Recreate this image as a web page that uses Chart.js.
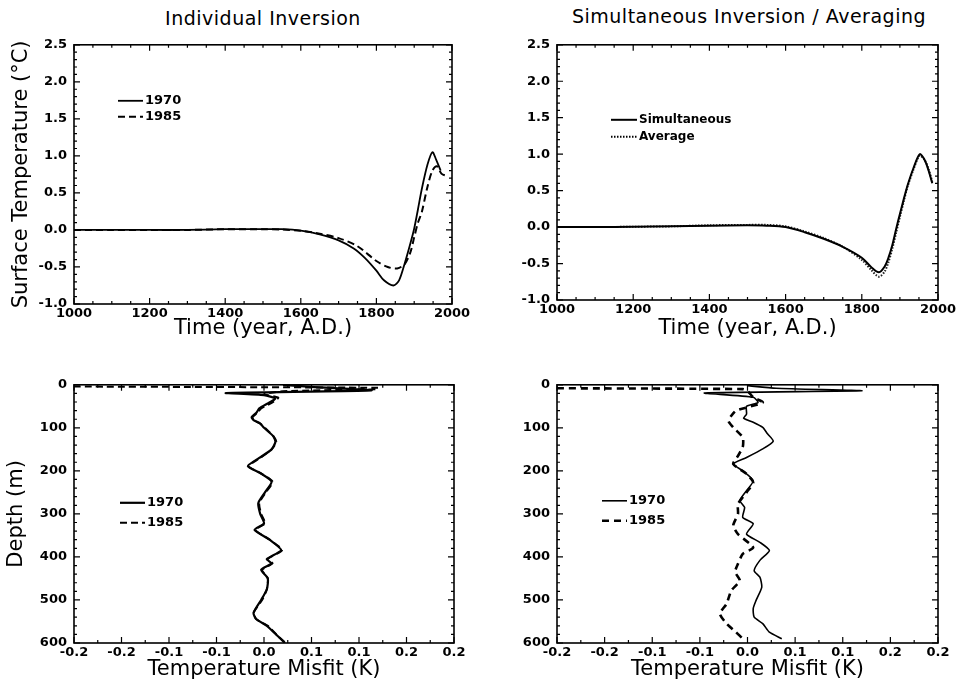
<!DOCTYPE html>
<html>
<head>
<meta charset="utf-8">
<script src="https://cdn.jsdelivr.net/npm/chart.js@4.4.0/dist/chart.umd.min.js"></script>
<style>
  body { margin: 0; background: #fff; }
  #page { position: relative; width: 964px; height: 684px; overflow: hidden; background: #fff; }
  canvas { position: absolute; }
  .ptitle { position: absolute; font-family: 'DejaVu Sans', sans-serif; font-size: 19px; letter-spacing: 0.5px; color: #000; white-space: nowrap; transform: translateX(-50%); }
</style>
</head>
<body>
<div id="page">
  <div class="ptitle" style="left:263px; top:7px;">Individual Inversion</div>
  <div class="ptitle" style="left:749px; top:5px;">Simultaneous Inversion / Averaging</div>
  <canvas id="tl" width="475" height="315" style="left:0; top:30px;"></canvas>
  <canvas id="tr" width="482" height="315" style="left:482px; top:30px;"></canvas>
  <canvas id="bl" width="475" height="314" style="left:0; top:370px;"></canvas>
  <canvas id="br" width="482" height="314" style="left:482px; top:370px;"></canvas>
</div>
<script>
// tick labels
const tempTickLabels = ['-1.0', '-0.5', '0.0', '0.5', '1.0', '1.5', '2.0', '2.5'];
const misfitTickLabels = ['-0.2', '-0.2', '-0.1', '-0.1', '0.0', '0.1', '0.1', '0.2', '0.2'];

// Individual inversion: surface temperature history (deg C)
const years1970 = [1000, 1100, 1200, 1300, 1400, 1500, 1550, 1600, 1650, 1700, 1740, 1770, 1800, 1820, 1845, 1860, 1875, 1890, 1900, 1910, 1920, 1935, 1948, 1958, 1970];
const indiv1970 = [0, 0, 0, 0, 0.01, 0.01, 0.01, -0.01, -0.06, -0.14, -0.25, -0.38, -0.55, -0.68, -0.75, -0.68, -0.45, -0.18, 0.02, 0.28, 0.55, 0.88, 1.05, 0.95, 0.8];
const years1985 = [1000, 1100, 1200, 1300, 1400, 1500, 1550, 1600, 1650, 1700, 1750, 1800, 1830, 1855, 1875, 1890, 1900, 1910, 1920, 1935, 1948, 1960, 1972, 1985];
const indiv1985 = [0, 0, 0, 0, 0.01, 0.01, 0.005, -0.01, -0.05, -0.11, -0.22, -0.42, -0.5, -0.52, -0.46, -0.3, -0.1, 0.1, 0.24, 0.58, 0.8, 0.86, 0.76, 0.73];

// Simultaneous inversion / averaging
const simYears = [1000, 1100, 1200, 1300, 1400, 1500, 1550, 1600, 1650, 1700, 1750, 1800, 1825, 1845, 1860, 1870, 1880, 1890, 1900, 1910, 1920, 1935, 1952, 1965, 1975, 1985];
const simultaneous = [0, 0, 0.005, 0.01, 0.02, 0.025, 0.02, 0.0, -0.07, -0.16, -0.27, -0.42, -0.55, -0.62, -0.54, -0.42, -0.25, -0.03, 0.18, 0.38, 0.57, 0.8, 1.0, 0.92, 0.78, 0.6];
const average = [0, 0, 0.005, 0.01, 0.025, 0.03, 0.03, 0.01, -0.06, -0.15, -0.27, -0.45, -0.59, -0.68, -0.61, -0.48, -0.3, -0.08, 0.14, 0.35, 0.55, 0.78, 0.98, 0.92, 0.8, 0.62];

// Individual inversion: temperature misfit vs depth
const depthInd1970 = [0, 5, 13, 19, 24, 32, 42, 55, 65, 75, 82, 90, 100, 120, 133, 150, 170, 189, 205, 225, 250, 275, 300, 322, 337, 360, 384, 405, 415, 430, 450, 475, 500, 530, 545, 560, 585, 600];
const misfitInd1970 = [0.02, 0.05, 0.113, -0.04, 0.0, 0.012, 0.005, -0.005, -0.008, -0.013, -0.011, -0.004, 0.0, 0.01, 0.012, 0.008, -0.005, -0.017, -0.004, 0.008, 0.001, -0.006, -0.004, 0.0, -0.01, 0.006, 0.018, 0.003, 0.008, -0.003, 0.004, 0.003, -0.003, -0.011, -0.008, 0.003, 0.015, 0.022];
const depthInd1985 = [4, 7, 10, 15, 22, 30, 42, 55, 65, 75, 82, 90, 100, 120, 133, 150, 170, 189, 205, 225, 250, 275, 300, 322, 337, 360, 384, 405, 415, 430, 450, 475, 500, 530, 545, 560, 585, 600];
const misfitInd1985 = [-0.2, 0.12, 0.12, 0.02, 0.0, 0.015, 0.008, -0.003, -0.007, -0.012, -0.011, -0.004, 0.001, 0.01, 0.013, 0.008, -0.004, -0.016, -0.004, 0.009, 0.002, -0.005, -0.003, 0.001, -0.009, 0.006, 0.019, 0.004, 0.009, -0.002, 0.004, 0.003, -0.002, -0.011, -0.008, 0.004, 0.015, 0.023];

// Simultaneous inversion: temperature misfit vs depth
const depthSim1970 = [2, 8, 14, 19, 29, 41, 50, 68, 78, 87, 99, 114, 131, 149, 169, 184, 200, 223, 246, 269, 285, 308, 323, 347, 366, 385, 408, 432, 447, 470, 501, 520, 540, 555, 575, 590];
const misfitSim1970 = [0.0, 0.03, 0.12, -0.045, 0.006, 0.011, -0.001, -0.001, -0.004, 0.006, 0.016, 0.021, 0.027, 0.016, -0.001, -0.015, -0.005, 0.006, -0.001, -0.008, -0.003, -0.005, 0.006, -0.001, 0.013, 0.023, 0.013, 0.007, 0.013, 0.015, 0.009, 0.006, 0.007, 0.016, 0.023, 0.036];
const depthSim1985 = [8, 10, 14, 29, 41, 60, 72, 84, 99, 122, 145, 165, 184, 207, 227, 250, 277, 300, 327, 347, 378, 393, 416, 435, 455, 478, 509, 532, 555, 575, 590];
const misfitSim1985 = [-0.2, -0.005, 0.0, 0.006, 0.016, -0.012, -0.017, -0.02, -0.015, -0.005, -0.005, -0.01, -0.015, -0.001, 0.006, -0.001, -0.01, -0.01, -0.015, -0.01, 0.006, -0.005, -0.01, -0.013, -0.008, -0.017, -0.022, -0.029, -0.022, -0.012, -0.005];

Chart.defaults.font.family = "'DejaVu Sans', sans-serif";
Chart.defaults.color = '#000';
Chart.defaults.animation = false;
Chart.defaults.devicePixelRatio = 1;

function pairs(xs, ys) {
    return xs.map((x, i) => ({ x: x, y: ys[i] }));
}

// frame around the plot plus inward major/minor ticks on all four sides
const frameTicks = {
    id: 'frameTicks',
    afterDraw(chart, args, opts) {
        const { ctx, chartArea: a } = chart;
        ctx.save();
        ctx.strokeStyle = '#000';
        ctx.lineWidth = 1.6;
        ctx.strokeRect(a.left, a.top, a.right - a.left, a.bottom - a.top);
        ctx.lineWidth = 1.2;
        ['x', 'y'].forEach(id => {
            const s = chart.scales[id];
            const vals = s.ticks.map(t => t.value);
            const sub = id === 'x' ? opts.xMinor : opts.yMinor;
            const marks = [];
            vals.forEach((v, i) => {
                marks.push([v, 6]);
                if (i < vals.length - 1) {
                    const step = (vals[i + 1] - v) / sub;
                    for (let k = 1; k < sub; k++) marks.push([v + k * step, 3]);
                }
            });
            marks.forEach(([v, len]) => {
                const p = s.getPixelForValue(v);
                ctx.beginPath();
                if (id === 'x') {
                    ctx.moveTo(p, a.bottom); ctx.lineTo(p, a.bottom - len);
                    ctx.moveTo(p, a.top); ctx.lineTo(p, a.top + len);
                } else {
                    ctx.moveTo(a.left, p); ctx.lineTo(a.left + len, p);
                    ctx.moveTo(a.right, p); ctx.lineTo(a.right - len, p);
                }
                ctx.stroke();
            });
        });
        ctx.restore();
    }
};

// small legend drawn inside the plot area
const innerLegend = {
    id: 'innerLegend',
    afterDraw(chart, args, opts) {
        const { ctx, chartArea: a } = chart;
        ctx.save();
        ctx.font = 'bold ' + opts.size + 'px "DejaVu Sans", sans-serif';
        ctx.textBaseline = 'middle';
        ctx.fillStyle = '#000';
        chart.data.datasets.forEach((ds, i) => {
            const y = a.top + opts.top + i * opts.gap;
            ctx.strokeStyle = '#000';
            ctx.lineWidth = ds.borderWidth;
            ctx.setLineDash(ds.borderDash || []);
            ctx.beginPath();
            ctx.moveTo(a.left + opts.x0, y);
            ctx.lineTo(a.left + opts.x1, y);
            ctx.stroke();
            ctx.setLineDash([]);
            ctx.fillText(ds.label, a.left + opts.x1 + 2, y);
        });
        ctx.restore();
    }
};

function makeChart(id, cfg) {
    return new Chart(document.getElementById(id), {
        type: 'scatter',
        data: { datasets: cfg.datasets },
        options: {
            responsive: false,
            layout: { padding: { top: cfg.padTop, right: cfg.padRight, left: 0, bottom: 0 } },
            elements: { point: { radius: 0 }, line: { tension: 0.3 } },
            plugins: {
                legend: { display: false },
                tooltip: { enabled: false },
                frameTicks: { xMinor: cfg.xMinor, yMinor: cfg.yMinor },
                innerLegend: cfg.legend
            },
            scales: {
                x: {
                    type: 'linear', min: cfg.xMin, max: cfg.xMax,
                    grid: { display: false, drawTicks: false }, border: { display: false },
                    ticks: { stepSize: cfg.xStep, padding: 2, maxRotation: 0, autoSkip: false,
                             font: { size: 13, weight: 'bold' }, callback: cfg.xLabel },
                    title: { display: true, text: cfg.xTitle, font: { size: 21 }, padding: { top: 0, bottom: cfg.xTitlePad } },
                    afterFit: s => { s.height = cfg.xHeight; }
                },
                y: {
                    type: 'linear', min: cfg.yMin, max: cfg.yMax, reverse: !!cfg.yReverse,
                    grid: { display: false, drawTicks: false }, border: { display: false },
                    ticks: { stepSize: cfg.yStep, padding: 7, autoSkip: false,
                             font: { size: 13, weight: 'bold' }, callback: cfg.yLabel },
                    title: { display: !!cfg.yTitle, text: cfg.yTitle || '', font: { size: 21 }, padding: { top: cfg.yTitlePad, bottom: 0 } },
                    afterFit: s => { s.width = cfg.yWidth; }
                }
            }
        },
        plugins: [frameTicks, innerLegend]
    });
}

const tempLabel = (v, i) => tempTickLabels[i];
const yearLabel = v => String(v);
const misfitLabel = (v, i) => misfitTickLabels[i];
const depthLabel = v => String(v);

const topCommon = {
    xMin: 1000, xMax: 2000, xStep: 200, yMin: -1, yMax: 2.5, yStep: 0.5,
    xLabel: yearLabel, yLabel: tempLabel, xTitle: 'Time (year, A.D.)', xMinor: 4, yMinor: 5
};
const botCommon = {
    xMin: -0.2, xMax: 0.2, xStep: 0.05, yMin: 0, yMax: 600, yStep: 100, yReverse: true,
    xLabel: misfitLabel, yLabel: depthLabel, xTitle: 'Temperature Misfit (K)', xMinor: 2, yMinor: 5,
    padTop: 14, xHeight: 41, xTitlePad: 2
};

makeChart('tl', Object.assign({}, topCommon, {
    padTop: 14, padRight: 23, yWidth: 74, xHeight: 41, xTitlePad: 4,
    yTitle: 'Surface Temperature (°C)', yTitlePad: 9,
    legend: { x0: 44, x1: 69, top: 56, gap: 16, size: 13 },
    datasets: [
        { label: '1970', data: pairs(years1970, indiv1970), showLine: true, borderColor: '#000', borderWidth: 1.8 },
        { label: '1985', data: pairs(years1985, indiv1985), showLine: true, borderColor: '#000', borderWidth: 2, borderDash: [7, 4] }
    ]
}));

makeChart('tr', Object.assign({}, topCommon, {
    padTop: 11, padRight: 26, yWidth: 75, xHeight: 45, xTitlePad: 4,
    legend: { x0: 54, x1: 80, top: 75, gap: 17, size: 12 },
    datasets: [
        { label: 'Simultaneous', data: pairs(simYears, simultaneous), showLine: true, borderColor: '#000', borderWidth: 2 },
        { label: 'Average', data: pairs(simYears, average), showLine: true, borderColor: '#222', borderWidth: 2, borderDash: [1.5, 1.5] }
    ]
}));

makeChart('bl', Object.assign({}, botCommon, {
    padRight: 21, yWidth: 74, yTitle: 'Depth (m)', yTitlePad: 4,
    legend: { x0: 46, x1: 71, top: 118, gap: 20, size: 13 },
    datasets: [
        { label: '1970', data: pairs(misfitInd1970, depthInd1970), showLine: true, borderColor: '#000', borderWidth: 2.2, tension: 0.2 },
        { label: '1985', data: pairs(misfitInd1985, depthInd1985), showLine: true, borderColor: '#000', borderWidth: 2, borderDash: [7, 4], tension: 0.2 }
    ]
}));

makeChart('br', Object.assign({}, botCommon, {
    padRight: 26, yWidth: 75,
    legend: { x0: 45, x1: 70, top: 116, gap: 20, size: 13 },
    datasets: [
        { label: '1970', data: pairs(misfitSim1970, depthSim1970), showLine: true, borderColor: '#000', borderWidth: 1.6, tension: 0.2 },
        { label: '1985', data: pairs(misfitSim1985, depthSim1985), showLine: true, borderColor: '#000', borderWidth: 2.6, borderDash: [7, 5], tension: 0.2 }
    ]
}));
</script>
</body>
</html>
